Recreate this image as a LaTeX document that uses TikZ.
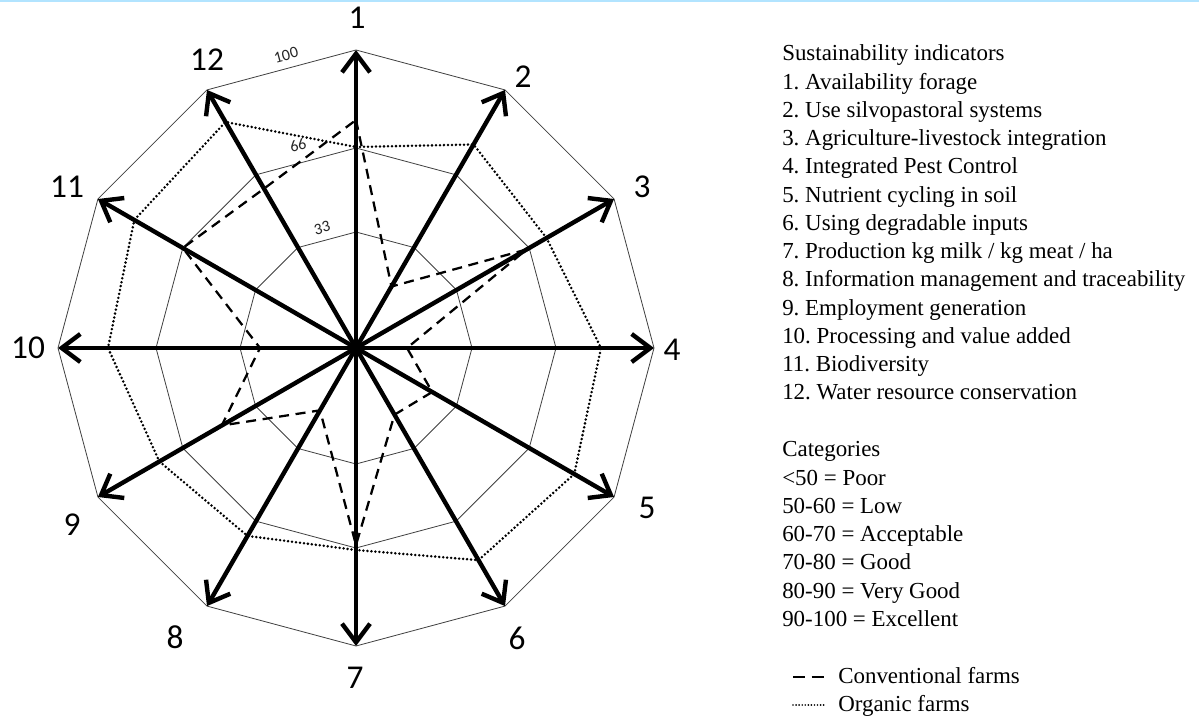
\documentclass[tikz,border=0pt]{standalone}
\usepackage{fontspec}
\setmainfont{Liberation Serif}
\newfontfamily\calib{Carlito}
\usetikzlibrary{arrows.meta,calc}
\frenchspacing
\begin{document}
\begin{tikzpicture}[x=0.75pt,y=0.75pt,
  gridline/.style={draw=black!75,line width=0.6pt},
  axisarrow/.style={line width=3.3pt,-{Straight Barb[length=14pt,width=21pt]}},
  organic/.style={line width=2.1pt,line cap=round,dash pattern=on 0pt off 3pt},
  conventional/.style={line width=1.7pt,dash pattern=on 7.5pt off 5pt},
  axislabel/.style={font=\calib\fontsize{25}{25}\selectfont,inner sep=0pt},
  ringlabel/.style={font=\calib\fontsize{12}{12}\selectfont,text=black!85,inner sep=0pt,rotate=15},
  legendtext/.style={font=\fontsize{17.2}{20}\selectfont,anchor=base west,inner sep=0pt},
  topline/.style={draw=blue!35!cyan!30,line width=1.2pt}
]
\useasboundingbox (0,0) rectangle (1199,-716);
\fill[white] (0,0) rectangle (1199,-716);
\draw[topline] (0,-1) -- (1199,-1);

\begin{scope}[shift={(356,-348)}]
  \coordinate (O) at (0,0);
  % rings
  \foreach \r [count=\n] in {116,200,298}
    \draw[gridline] (90:\r) \foreach \k in {1,...,11} { -- (90-30*\k:\r) } -- cycle;
  % vertices
  \foreach \k in {1,...,12} \coordinate (v\k) at (120-30*\k:298);
  % organic farms
  \foreach \r [count=\k] in {201,235,220,245,252,245,202,217,227,248,256,261}
    \coordinate (o\k) at (120-30*\k:\r);
  % conventional farms
  \foreach \r [count=\k] in {228,71,197,51,88,77,197,72,155,96,200,184}
    \coordinate (c\k) at (120-30*\k:\r);
  \draw[organic] (o1) \foreach \k in {2,...,12} { -- (o\k) } -- cycle;
  \draw[conventional] (c1) \foreach \k in {2,...,12} { -- (c\k) } -- cycle;
  % axes
  \foreach \k in {1,...,12} \draw[axisarrow] (O) -- (v\k);
\end{scope}

% ring labels
\node[ringlabel] (r100) at (286,-55) {100};
\node[ringlabel] (r66) at (298,-145) {66};
\node[ringlabel] (r33) at (322,-228) {33};

% axis labels
\node[axislabel] (n1) at (357,-18) {1};
\node[axislabel] (n2) at (523,-77) {2};
\node[axislabel] (n3) at (642,-187) {3};
\node[axislabel] (n4) at (672,-350) {4};
\node[axislabel] (n5) at (647,-508) {5};
\node[axislabel] (n6) at (517,-638) {6};
\node[axislabel] (n7) at (355,-678) {7};
\node[axislabel] (n8) at (175,-637) {8};
\node[axislabel] (n9) at (72,-525) {9};
\node[axislabel] (n10) at (28,-348) {10};
\node[axislabel] (n11) at (67,-187) {11};
\node[axislabel] (n12) at (207,-60) {12};

% legend: indicators
\foreach \t [count=\i from 0] in {Sustainability indicators,
  1. Availability forage,
  2. Use silvopastoral systems,
  3. Agriculture-livestock integration,
  4. Integrated Pest Control,
  5. Nutrient cycling in soil,
  6. Using degradable inputs,
  7. Production kg milk / kg meat / ha,
  8. Information management and traceability,
  9. Employment generation,
  10. Processing and value added,
  11. Biodiversity,
  12. Water resource conservation}
  \node[legendtext] (ind\i) at (782,-61-28.25*\i) {\t};

% legend: categories
\foreach \t [count=\i from 0] in {Categories,
  <50 = Poor,
  50-60 = Low,
  60-70 = Acceptable,
  70-80 = Good,
  80-90 = Very Good,
  90-100 = Excellent}
  \node[legendtext] (cat\i) at (782,-456.7-28.3*\i) {\t};

% legend: series
\coordinate (ls1a) at (793,-677);
\coordinate (ls1b) at (824,-677);
\coordinate (ls2a) at (793,-705);
\coordinate (ls2b) at (824,-705);
\draw[line width=2.2pt,dash pattern=on 9pt off 5pt] (ls1a) -- (ls1b);
\draw[line width=1.4pt,line cap=round,dash pattern=on 0pt off 2.3pt] (ls2a) -- (ls2b);
\node[legendtext] (lconv) at (838,-683) {Conventional farms};
\node[legendtext] (lorg) at (838,-711.7) {Organic farms};
\end{tikzpicture}
\end{document}
